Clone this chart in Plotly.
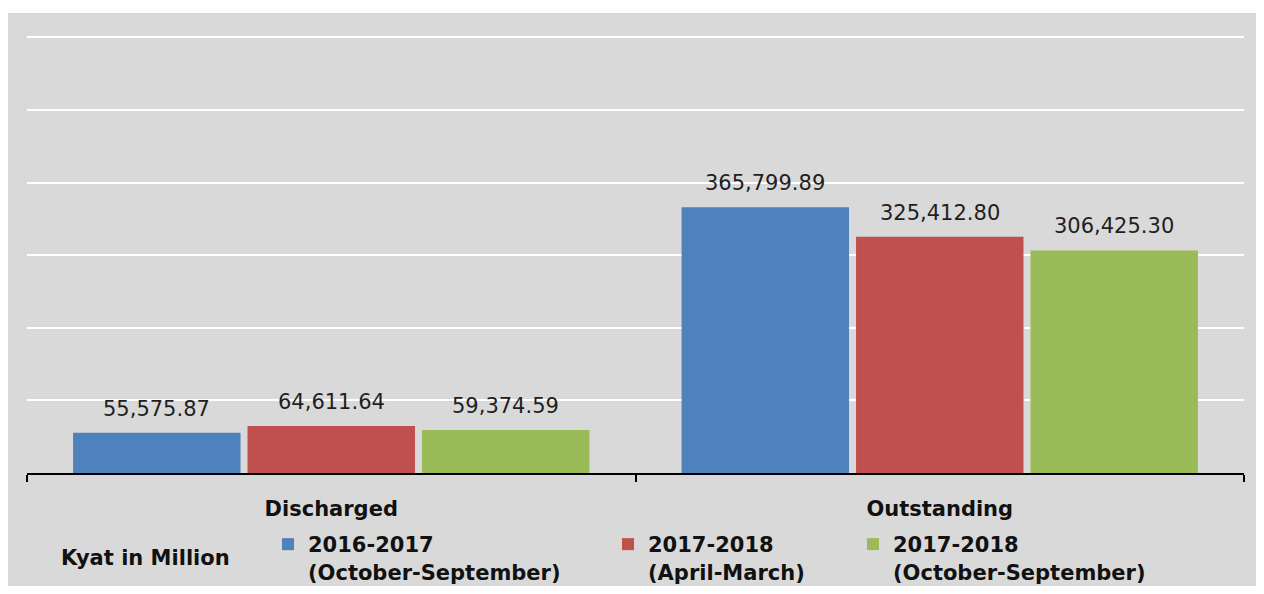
import plotly.graph_objects as go

categories = ["Discharged", "Outstanding"]
series_names = [
    "2016-2017<br>(October-September)",
    "2017-2018<br>(April-March)",
    "2017-2018<br>(October-September)",
]
values_2016_17_oct_sep = [55575.87, 365799.89]
values_2017_18_apr_mar = [64611.64, 325412.80]
values_2017_18_oct_sep = [59374.59, 306425.30]
unit_label = "Kyat in Million"

colors = ["#4f81bd", "#c0504d", "#9bbb59"]
series_values = [values_2016_17_oct_sep, values_2017_18_apr_mar, values_2017_18_oct_sep]
legend_ids = ["legend", "legend2", "legend3"]

# page has an 8px body margin; figure sized so page == window
OFF = 8
W, H = 1264 - 2 * OFF, 594 - 2 * OFF
ML, MR, MT, MB = 27 - OFF, W - (1244 - OFF), 30 - OFF, H - (473 - OFF)
PW, PH = W - ML - MR, H - MT - MB

def px_x(p):  # page pixel -> paper coord
    return (p - OFF - ML) / PW

def px_y(p):
    return (H - MB - (p - OFF)) / PH

BARGAP = 0.14
BARGROUPGAP = 0.04
n_series = len(series_values)
slot = (1 - BARGAP) / n_series

fig = go.Figure()
annotations = []
for i, (name, vals, col, lg) in enumerate(zip(series_names, series_values, colors, legend_ids)):
    fig.add_trace(go.Bar(
        x=categories, y=vals, name=name,
        marker=dict(color=col, line=dict(width=0)),
        legend=lg,
    ))
    shift = (i - (n_series - 1) / 2) * slot
    for j, v in enumerate(vals):
        annotations.append(dict(
            x=j + shift, y=v, xref="x", yref="y", text=f"{v:,.2f}",
            showarrow=False, xanchor="center", yanchor="bottom", yshift=10,
            font=dict(family="DejaVu Sans", size=21, color="#1f1f1f"),
        ))

annotations.append(dict(
    text="<b>" + unit_label + "</b>", xref="paper", yref="paper",
    x=px_x(145), y=px_y(558), xanchor="center", yanchor="middle",
    showarrow=False, font=dict(family="DejaVu Sans", size=21, color="#111111"),
))

legend_common = dict(
    orientation="h", yanchor="top", xanchor="left",
    font=dict(family="DejaVu Sans", size=21, color="#111111", weight="bold"),
    bgcolor="rgba(0,0,0,0)", valign="top", borderwidth=0,
    itemwidth=30,
)

fig.update_layout(
    width=W, height=H,
    margin=dict(l=ML, r=MR, t=MT, b=MB, pad=0, autoexpand=False),
    paper_bgcolor="white",
    plot_bgcolor="#d9d9d9",
    barmode="group", bargap=BARGAP, bargroupgap=BARGROUPGAP,
    showlegend=True,
    legend=dict(**legend_common, x=px_x(309 - 41), y=px_y(524)),
    legend2=dict(**legend_common, x=px_x(649 - 41), y=px_y(524)),
    legend3=dict(**legend_common, x=px_x(894 - 41), y=px_y(524)),
    xaxis=dict(
        range=[-0.5, 1.5], showline=True, linecolor="black", linewidth=1.5,
        ticks="outside", tickson="boundaries", ticklen=7, tickcolor="black", tickwidth=1.5,
        tickfont=dict(family="DejaVu Sans", size=21, color="#111111", weight="bold"),
        ticklabelstandoff=16, showgrid=False,
    ),
    yaxis=dict(
        range=[0, 610000], dtick=100000, showticklabels=False,
        showgrid=True, gridcolor="white", gridwidth=2, zeroline=False, showline=False,
    ),
    shapes=[dict(
        type="rect", xref="paper", yref="paper", layer="below",
        x0=px_x(7), x1=px_x(1260), y0=px_y(600), y1=px_y(13),
        fillcolor="#d9d9d9", line=dict(width=0),
    )],
    annotations=annotations,
)

fig.write_html("out.html")
